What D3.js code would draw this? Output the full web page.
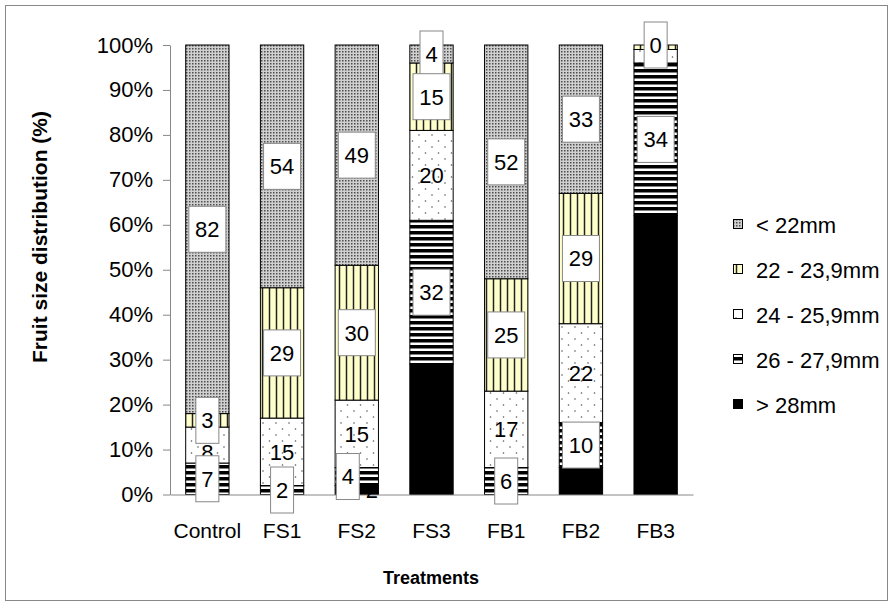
<!DOCTYPE html>
<html>
<head>
<meta charset="utf-8">
<script src="https://cdn.jsdelivr.net/npm/d3@7"></script>
<style>
body { margin: 0; background: #fff; }
text { font-family: "Liberation Sans", Arial, sans-serif; }
</style>
</head>
<body>
<div class="chart"></div>
<script>
// categories and series (bottom of stack first)
const categories = ["Control", "FS1", "FS2", "FS3", "FB1", "FB2", "FB3"];
const seriesNames = ["> 28mm", "26 - 27,9mm", "24 - 25,9mm", "22 - 23,9mm", "< 22mm"];
const over28 = [0, 0, 2, 29, 0, 6, 62];
const s26to28 = [7, 2, 4, 32, 6, 10, 34];
const s24to26 = [8, 15, 15, 20, 17, 22, 3];
const s22to24 = [3, 29, 30, 15, 25, 29, 1];
const under22 = [82, 54, 49, 4, 52, 33, 0];
const yTicks = [0, 10, 20, 30, 40, 50, 60, 70, 80, 90, 100];
// labels that are not shown in the original
const hiddenLabels = ["FB3|24 - 25,9mm", "FB3|22 - 23,9mm"];

const width = 893, height = 607;
const margin = { top: 45, right: 200, bottom: 113, left: 170 };

const rows = categories.map((c, i) => ({
    cat: c,
    "> 28mm": over28[i],
    "26 - 27,9mm": s26to28[i],
    "24 - 25,9mm": s24to26[i],
    "22 - 23,9mm": s22to24[i],
    "< 22mm": under22[i]
}));

const svg = d3.select(".chart").append("svg")
    .attr("width", width)
    .attr("height", height);

// fill patterns
const defs = svg.append("defs");

let p = defs.append("pattern").attr("id", "pt0")
    .attr("patternUnits", "userSpaceOnUse").attr("width", 3).attr("height", 3);
p.append("rect").attr("width", 3).attr("height", 3).attr("fill", "#d0d0d0");
p.append("rect").attr("width", 1.5).attr("height", 1.5).attr("fill", "#4d4d4d");

p = defs.append("pattern").attr("id", "pt1")
    .attr("patternUnits", "userSpaceOnUse").attr("width", 7).attr("height", 10);
p.append("rect").attr("width", 7).attr("height", 10).attr("fill", "#ffffcc");
p.append("line").attr("x1", 3.5).attr("x2", 3.5).attr("y1", 0).attr("y2", 10)
    .attr("stroke", "#222").attr("stroke-width", 1.5);

p = defs.append("pattern").attr("id", "pt2")
    .attr("patternUnits", "userSpaceOnUse").attr("width", 13).attr("height", 12);
p.append("rect").attr("width", 13).attr("height", 12).attr("fill", "#fff");
p.append("circle").attr("cx", 3).attr("cy", 3).attr("r", 0.8).attr("fill", "#555");
p.append("circle").attr("cx", 9.5).attr("cy", 9).attr("r", 0.8).attr("fill", "#555");

p = defs.append("pattern").attr("id", "pt3")
    .attr("patternUnits", "userSpaceOnUse").attr("width", 6).attr("height", 6);
p.append("rect").attr("width", 6).attr("height", 6).attr("fill", "#000");
p.append("rect").attr("y", 0.5).attr("width", 6).attr("height", 2.5).attr("fill", "#fff");

const fills = {
    "> 28mm": "#000",
    "26 - 27,9mm": "url(#pt3)",
    "24 - 25,9mm": "url(#pt2)",
    "22 - 23,9mm": "url(#pt1)",
    "< 22mm": "url(#pt0)"
};

// outer frame
svg.append("rect")
    .attr("x", 5.5).attr("y", 5.5)
    .attr("width", 882).attr("height", 595)
    .attr("fill", "none").attr("stroke", "#888");

const x = d3.scaleBand()
    .domain(categories)
    .range([margin.left, width - margin.right])
    .paddingInner(0.42)
    .paddingOuter(0.21);

const y = d3.scaleLinear()
    .domain([0, 100])
    .range([height - margin.bottom + 0.5, margin.top]);

const stacked = d3.stack().keys(seriesNames)(rows);

// bars
svg.append("g")
    .selectAll("g")
    .data(stacked)
    .join("g")
    .attr("fill", d => fills[d.key])
    .selectAll("rect")
    .data(d => d.map(v => Object.assign(v, { key: d.key })))
    .join("rect")
    .filter(d => d[1] > d[0])
    .attr("x", d => x(d.data.cat))
    .attr("y", d => y(d[1]))
    .attr("width", x.bandwidth())
    .attr("height", d => y(d[0]) - y(d[1]))
    .attr("stroke", "#000")
    .attr("stroke-width", 1);

// axes
const yAxis = g => g
    .attr("transform", `translate(${margin.left},0)`)
    .call(d3.axisLeft(y)
        .tickValues(yTicks)
        .tickFormat(d => d + "%")
        .tickSize(7)
        .tickPadding(10)
        .tickSizeOuter(0))
    .call(g => g.selectAll("line").attr("stroke", "#888"))
    .call(g => g.select(".domain").attr("stroke", "#888"))
    .call(g => g.selectAll("text")
        .attr("fill", "#000")
        .style("font-size", "22px")
        .style("font-family", "Liberation Sans, Arial, sans-serif"));

const xAxis = g => g
    .attr("transform", `translate(0,${y(0)})`)
    .call(d3.axisBottom(x)
        .tickSize(0)
        .tickSizeOuter(0)
        .tickPadding(29))
    .call(g => g.select(".domain").attr("stroke", "#888"))
    .call(g => g.selectAll("text")
        .attr("fill", "#000")
        .style("font-size", "21px")
        .style("font-family", "Liberation Sans, Arial, sans-serif"));

svg.append("g").call(yAxis);
svg.append("g").call(xAxis);

// data labels, drawn from the top series down
const labelLayer = svg.append("g");
const labelNudge = { "FS2|26 - 27,9mm": -9, "FS2|> 28mm": 15 };
const labelNudgeY = { "Control|24 - 25,9mm": 7 };

stacked.slice().reverse().forEach(s => {
    s.forEach(d => {
        const id = d.data.cat + "|" + s.key;
        const val = d[1] - d[0];
        if (hiddenLabels.includes(id)) return;
        if (s.key === "> 28mm" && val === 0) return;
        const cx = x(d.data.cat) + x.bandwidth() / 2 + (labelNudge[id] || 0);
        const cy = y((d[0] + d[1]) / 2) + (labelNudgeY[id] || 0);
        const txt = String(val);
        const boxed = s.key !== "> 28mm" && s.key !== "24 - 25,9mm";
        if (boxed) {
            const bw = txt.length > 1 ? 37 : 23;
            labelLayer.append("rect")
                .attr("x", cx - bw / 2)
                .attr("y", cy - 23)
                .attr("width", bw)
                .attr("height", 46)
                .attr("fill", "#fff")
                .attr("stroke", "#888")
                .attr("stroke-width", 1);
        }
        labelLayer.append("text")
            .attr("x", cx)
            .attr("y", cy)
            .attr("dy", "0.36em")
            .attr("text-anchor", "middle")
            .style("font-size", "22px")
            .attr("fill", "#000")
            .text(txt);
    });
});

// axis titles
svg.append("text")
    .attr("transform", "translate(47,237) rotate(-90)")
    .attr("text-anchor", "middle")
    .style("font-size", "21px")
    .style("font-weight", "bold")
    .text("Fruit size distribution (%)");

svg.append("text")
    .attr("x", 431)
    .attr("y", 584)
    .attr("text-anchor", "middle")
    .style("font-size", "18px")
    .style("font-weight", "bold")
    .text("Treatments");

// legend
const legend = svg.append("g")
    .selectAll("g")
    .data(seriesNames.slice().reverse())
    .join("g")
    .attr("transform", (d, i) => `translate(733,${225 + i * 45})`);

legend.append("rect")
    .attr("x", 0.5)
    .attr("y", -5.5)
    .attr("width", 9)
    .attr("height", 9)
    .attr("fill", d => fills[d])
    .attr("stroke", "#000");

legend.append("text")
    .attr("x", 23)
    .attr("y", 0)
    .attr("dy", "0.36em")
    .style("font-size", "22px")
    .text(d => d);
</script>
</body>
</html>
